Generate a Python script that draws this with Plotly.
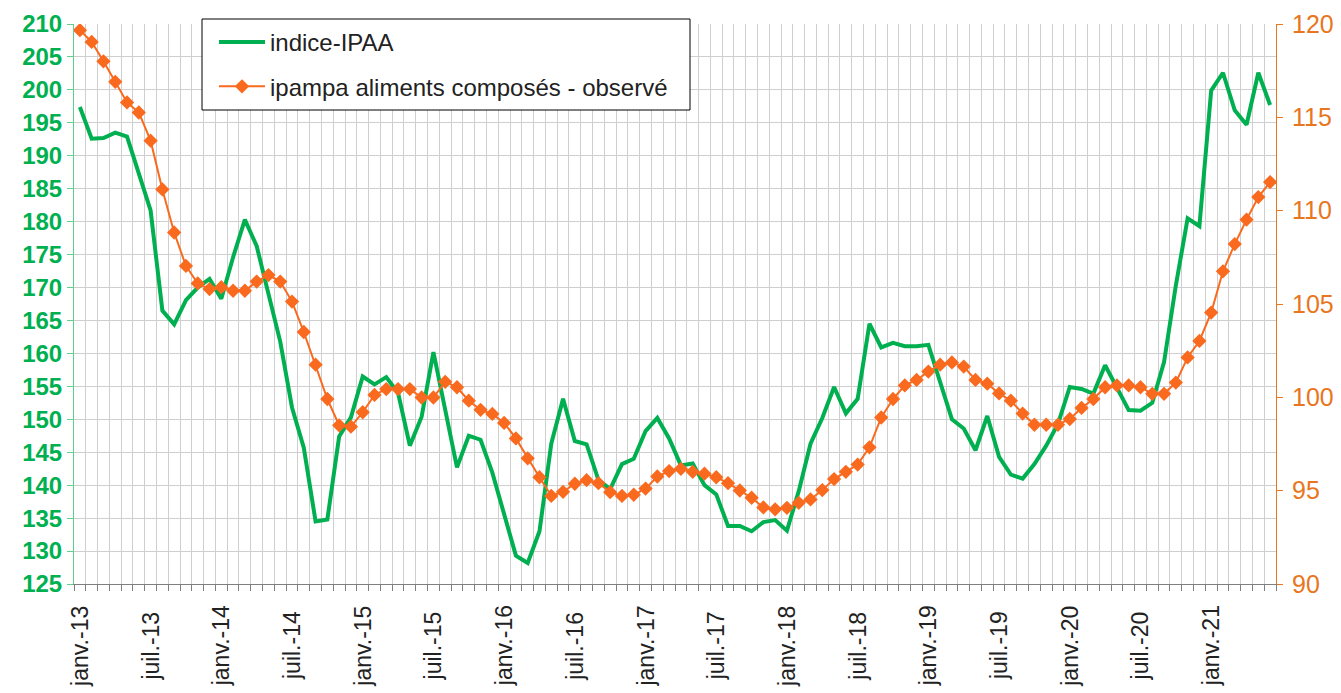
import plotly.graph_objects as go

# ---- data ----
mois_noms = ["janv.", "févr.", "mars", "avr.", "mai", "juin",
             "juil.", "août", "sept.", "oct.", "nov.", "déc."]
annees = ["13", "14", "15", "16", "17", "18", "19", "20", "21"]
mois = [f"{m}-{a}" for a in annees for m in mois_noms][:102]  # janv.-13 .. juin-21

indice_ipaa = [197.4, 192.6, 192.7, 193.5, 192.9, 187.2, 181.7, 166.5, 164.4, 168.1,
               170.0, 171.3, 168.3, 174.6, 180.3, 176.3, 169.2, 161.8, 151.8, 145.7,
               134.5, 134.8, 147.4, 150.3, 156.5, 155.3, 156.4, 154.0, 146.0, 150.4,
               160.2, 151.5, 142.7, 147.5, 146.9, 141.9, 135.5, 129.3, 128.2, 133.0,
               146.3, 153.1, 146.7, 146.2, 140.8, 139.4, 143.2, 144.0, 148.2, 150.2,
               147.1, 143.0, 143.3, 140.0, 138.6, 133.8, 133.8, 133.0, 134.4, 134.7,
               133.1, 139.1, 146.3, 150.2, 154.9, 150.9, 153.1, 164.5, 160.9, 161.6,
               161.1, 161.1, 161.3, 155.7, 150.0, 148.6, 145.3, 150.5, 144.3, 141.6,
               141.0, 143.2, 146.0, 149.3, 154.9, 154.6, 153.9, 158.2, 154.9, 151.4,
               151.3, 152.5, 158.7, 170.3, 180.5, 179.3, 199.9, 202.6, 196.9, 194.7,
               202.6, 197.7]

ipampa_aliments = [119.67, 119.04, 118.0, 116.9, 115.8, 115.26, 113.75, 111.14, 108.83, 107.04,
                   106.1, 105.8, 105.9, 105.71, 105.71, 106.2, 106.55, 106.2, 105.13, 103.5,
                   101.75, 99.91, 98.5, 98.43, 99.2, 100.13, 100.44, 100.44, 100.44, 99.99,
                   99.99, 100.83, 100.54, 99.82, 99.33, 99.11, 98.63, 97.8, 96.73, 95.72,
                   94.72, 94.94, 95.37, 95.56, 95.4, 94.92, 94.72, 94.78, 95.11, 95.76,
                   96.05, 96.17, 96.01, 95.91, 95.72, 95.4, 95.01, 94.62, 94.1, 94.0,
                   94.08, 94.35, 94.53, 95.03, 95.62, 96.01, 96.4, 97.32, 98.92, 99.91,
                   100.64, 100.93, 101.38, 101.75, 101.87, 101.65, 100.93, 100.73, 100.21, 99.82,
                   99.13, 98.53, 98.53, 98.53, 98.84, 99.43, 99.91, 100.54, 100.64, 100.64,
                   100.54, 100.19, 100.19, 100.79, 102.14, 103.02, 104.54, 106.75, 108.21, 109.52,
                   110.73, 111.53]

tick_labels = ["janv.-13", "juil.-13", "janv.-14", "juil.-14", "janv.-15", "juil.-15",
               "janv.-16", "juil.-16", "janv.-17", "juil.-17", "janv.-18", "juil.-18",
               "janv.-19", "juil.-19", "janv.-20", "juil.-20", "janv.-21"]

# ---- figure ----
x = list(range(len(mois)))
tick_pos = [mois.index(t) for t in tick_labels]

GREEN = "#00B050"
ORANGE = "#FA6A1E"
ORANGE_AX = "#E8761E"
FONT = "Liberation Sans"

# page body has an 8px margin: figure sized/positioned to fill the window
OFF = 8
W, H = 1341 - OFF, 693 - OFF
PLOT_L, PLOT_R, PLOT_T, PLOT_B = 74 - OFF, 1276 - OFF, 24 - OFF, 584 - OFF
PLOT_H = PLOT_B - PLOT_T
PLOT_W = PLOT_R - PLOT_L


def px(xp):   # page x -> paper fraction
    return (xp - 74) / PLOT_W


def py(yp):   # page y -> paper fraction
    return (584 - yp) / PLOT_H


fig = go.Figure()
fig.add_trace(go.Scatter(
    x=x, y=indice_ipaa, name="indice-IPAA", mode="lines",
    line=dict(color=GREEN, width=4), text=mois, legendgroup="a",
    hovertemplate="%{text}: %{y}<extra></extra>", yaxis="y"))
fig.add_trace(go.Scatter(
    x=x, y=ipampa_aliments,
    name="ipampa aliments composés - observé",
    mode="lines+markers", line=dict(color=ORANGE, width=2),
    marker=dict(symbol="diamond", size=11, color=ORANGE), text=mois, legendgroup="b",
    hovertemplate="%{text}: %{y}<extra></extra>", yaxis="y2"))

# centred, rotated category labels (as in the original)
for pos, lab in zip(tick_pos, tick_labels):
    fig.add_annotation(x=pos, y=py(646), xref="x", yref="paper",
                       text=lab, textangle=-90, showarrow=False,
                       xanchor="center", yanchor="middle",
                       font=dict(size=23, family=FONT, color="#222222"))

# legend frame
fig.add_shape(type="rect", xref="paper", yref="paper",
              x0=px(202), x1=px(690), y0=py(110), y1=py(19),
              fillcolor="white", line=dict(color="#000000", width=1), layer="above")

fig.update_layout(
    width=W, height=H,
    margin=dict(l=PLOT_L, r=W - PLOT_R, t=PLOT_T, b=H - PLOT_B, autoexpand=False),
    plot_bgcolor="white", paper_bgcolor="white",
    font=dict(family=FONT, color="#222222"),
    showlegend=True,
    legend=dict(x=px(214), y=py(20),
                xanchor="left", yanchor="top",
                bgcolor="rgba(0,0,0,0)", borderwidth=0,
                font=dict(size=24, family=FONT, color="#222222"),
                tracegroupgap=10, itemwidth=46),
    xaxis=dict(
        range=[-0.5, len(mois) - 0.5], tickmode="array",
        tickvals=tick_pos, ticktext=tick_labels, showticklabels=False,
        ticks="", showgrid=False, zeroline=False, automargin=False,
        showline=True, linecolor="#7f7f7f", linewidth=1,
        minor=dict(tick0=-0.5, dtick=1, ticks="outside", ticklen=6,
                   tickcolor="#7f7f7f", showgrid=True, gridcolor="#cfcfcf", gridwidth=1),
    ),
    yaxis=dict(
        range=[125, 210], tick0=125, dtick=5, showgrid=True, gridcolor="#cfcfcf",
        zeroline=False, showline=True, linecolor="#5fcf8c", linewidth=1,
        ticks="outside", ticklen=6, tickcolor="#5fcf8c", automargin=False,
        ticklabelstandoff=0,
        tickfont=dict(size=24, family=FONT, color=GREEN, weight="bold"),
    ),
    yaxis2=dict(
        range=[90, 120], tick0=90, dtick=5, overlaying="y", side="right",
        showgrid=False, zeroline=False, showline=True, linecolor=ORANGE_AX, linewidth=1,
        ticks="outside", ticklen=6, tickcolor=ORANGE_AX, automargin=False,
        ticklabelstandoff=4,
        tickfont=dict(size=25, family=FONT, color=ORANGE_AX),
    ),
)

fig.write_html("out.html")
